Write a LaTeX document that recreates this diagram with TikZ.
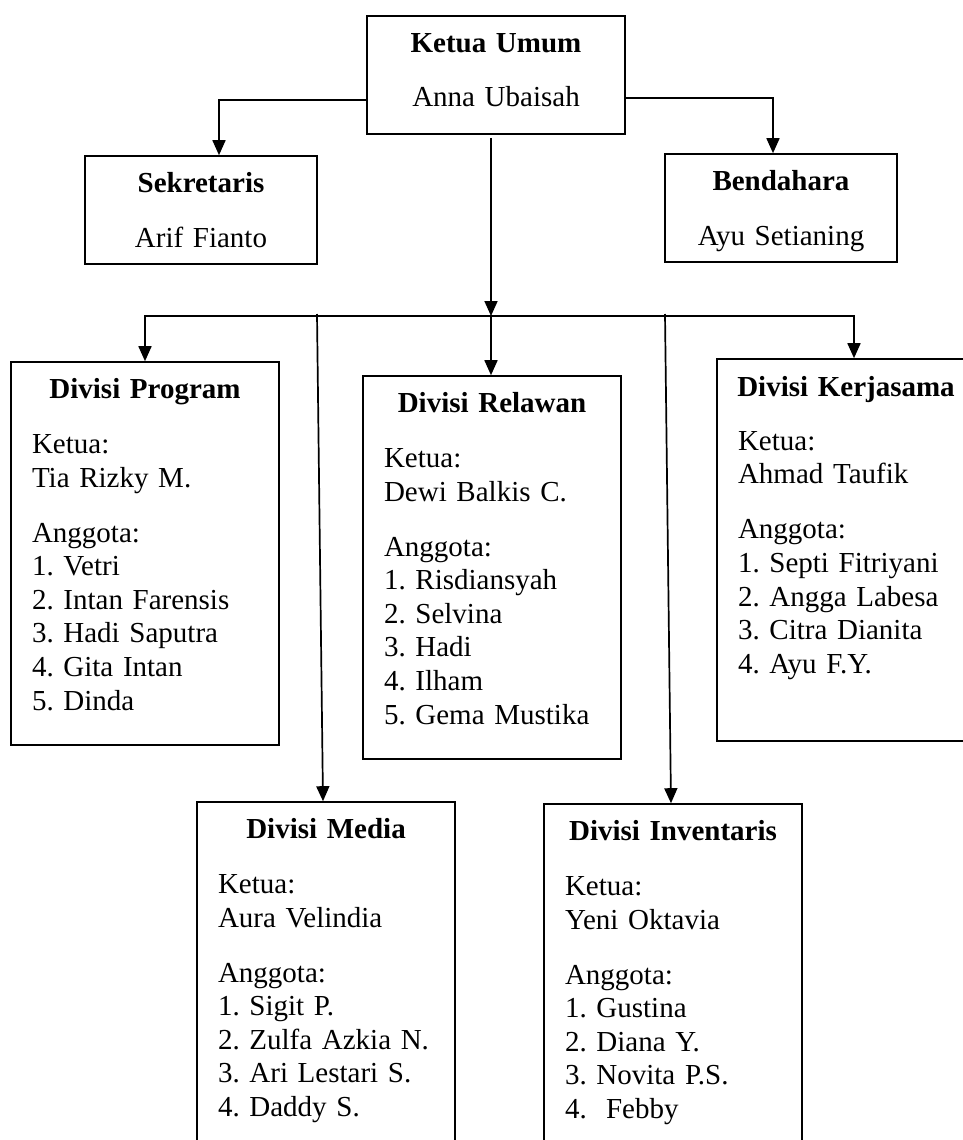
\documentclass[tikz,border=0pt]{standalone}
\usepackage{fontspec}
\setmainfont{Liberation Serif}
\usetikzlibrary{arrows.meta}
\frenchspacing
\begin{document}
\begin{tikzpicture}[x=1pt,y=-1pt,
  box/.style={draw,line width=1.6pt,rectangle,inner sep=0pt},
  toptext/.style={anchor=base,inner sep=0pt,align=center,font=\fontsize{29}{33.6}\selectfont\frenchspacing},
  divtext/.style={anchor=base,inner sep=0pt,align=left,font=\fontsize{29}{33.6}\selectfont\frenchspacing},
  arr/.style={line width=1.7pt,-{Triangle[length=15pt,width=13pt]}},
  arrs/.style={line width=1.7pt,{Triangle[length=15pt,width=13pt]}-{Triangle[length=15pt,width=13pt]}}]
\useasboundingbox (0,0) rectangle (963,1140);
\clip (0,0) rectangle (963,1140);
\fill[white] (0,0) rectangle (963,1140);

% top boxes
\node[box,minimum width=258pt,minimum height=118pt] (ketua) at (496,75) {};
\node[box,minimum width=232pt,minimum height=108pt] (sek) at (201,210) {};
\node[box,minimum width=232pt,minimum height=108pt] (bend) at (781,208) {};

\node[toptext,text width=258pt] (ketuat) at ([yshift=-37.3pt]ketua.north) {\textbf{Ketua Umum}\\[20.4pt]Anna Ubaisah};
\node[toptext,text width=232pt] (sekt) at ([yshift=-37.3pt]sek.north) {\textbf{Sekretaris}\\[21.4pt]Arif Fianto};
\node[toptext,text width=232pt] (bendt) at ([yshift=-37.3pt]bend.north) {\textbf{Bendahara}\\[21.4pt]Ayu Setianing};

% division boxes
\node[box,minimum width=268pt,minimum height=383pt] (prog) at (145,553.5) {};
\node[box,minimum width=258pt,minimum height=383pt] (rel) at (492,567.5) {};
\node[box,minimum width=258pt,minimum height=382pt] (kerja) at (846,550) {};
\node[box,minimum width=258pt,minimum height=358pt] (media) at (326,981) {};
\node[box,minimum width=258pt,minimum height=356pt] (inv) at (673,982) {};

\node[divtext,text width=226pt] (progt) at ([yshift=-37.3pt]prog.north) {%
\makebox[\linewidth]{\bfseries Divisi Program}\\[21.4pt]
Ketua:\\Tia Rizky M.\\[21.4pt]
Anggota:\\1. Vetri\\2. Intan Farensis\\3. Hadi Saputra\\4. Gita Intan\\5. Dinda};

\node[divtext,text width=216pt] (relt) at ([yshift=-37.3pt]rel.north) {%
\makebox[\linewidth]{\bfseries Divisi Relawan}\\[21.4pt]
Ketua:\\Dewi Balkis C.\\[21.4pt]
Anggota:\\1. Risdiansyah\\2. Selvina\\3. Hadi\\4. Ilham\\5. Gema Mustika};

\node[divtext,text width=216pt] (kerjat) at ([yshift=-38.5pt]kerja.north) {%
\makebox[\linewidth]{\bfseries Divisi Kerjasama}\\[20pt]
Ketua:\\Ahmad Taufik\\[21.4pt]
Anggota:\\1. Septi Fitriyani\\2. Angga Labesa\\3. Citra Dianita\\4. Ayu F.Y.};

\node[divtext,text width=216pt] (mediat) at ([yshift=-37.3pt]media.north) {%
\makebox[\linewidth]{\bfseries Divisi Media}\\[21.4pt]
Ketua:\\Aura Velindia\\[21.4pt]
Anggota:\\1. Sigit P.\\2. Zulfa Azkia N.\\3. Ari Lestari S.\\4. Daddy S.};

\node[divtext,text width=216pt] (invt) at ([yshift=-37.3pt]inv.north) {%
\makebox[\linewidth]{\bfseries Divisi Inventaris}\\[21.4pt]
Ketua:\\Yeni Oktavia\\[21.4pt]
Anggota:\\1. Gustina\\2. Diana Y.\\3. Novita P.S.\\4.~~Febby};

% connectors
\coordinate (busC) at (491,316);
\coordinate (busL) at (145,316);
\coordinate (busR) at (854,316);
\coordinate (mtop) at (317,314);
\coordinate (itop) at (665,314);

\draw[arr] ([yshift=-25pt]ketua.west) -| ([xshift=18pt]sek.north);
\draw[arr] ([yshift=-23pt]ketua.east) -| ([xshift=-8pt]bend.north);
\draw[arr] ([xshift=-5pt,yshift=-3pt]ketua.south) -- (busC);
\draw[arrs] (prog.north) -- (busL) -- (busR) -- ([xshift=8pt]kerja.north);
\draw[arr] (busC) -- ([xshift=-1pt]rel.north);
\draw[arr] (mtop) -- ([xshift=-3pt]media.north);
\draw[arr] (itop) -- ([xshift=-2pt]inv.north);
\end{tikzpicture}
\end{document}
